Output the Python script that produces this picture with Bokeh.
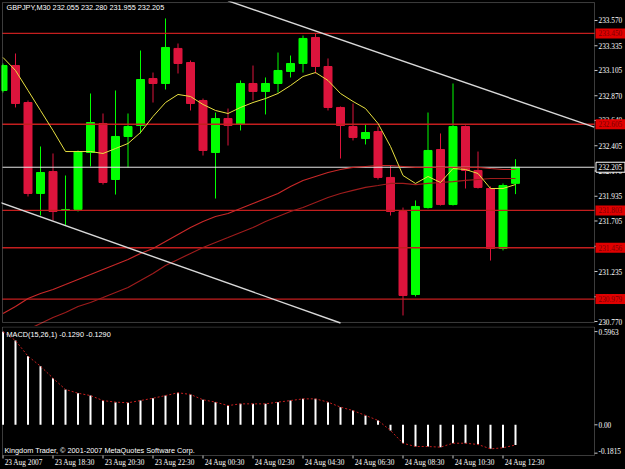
from bokeh.plotting import figure
from bokeh.layouts import column
from bokeh.models import Range1d, Label, ColumnDataSource, BoxAnnotation
from bokeh.embed import file_html
from bokeh.resources import INLINE

# ---------------- data ----------------
bar_index = list(range(42))
opens = [232.919, 233.151, 232.807, 231.961, 232.165, 231.803, 231.812, 232.342, 232.612, 232.091,
         232.491, 232.593, 233.030, 232.984, 233.310, 233.179, 232.826, 232.342, 232.658, 232.603,
         232.984, 232.910, 232.984, 233.096, 233.170, 233.412, 233.142, 232.761, 232.584, 232.472,
         232.537, 232.110, 231.793, 231.021, 231.830, 232.370, 231.858, 232.584, 232.175, 232.007,
         231.449, 232.055]
highs = [233.170, 233.263, 232.826, 232.398, 232.333, 232.128, 232.361, 232.891, 232.705, 232.919,
         232.705, 233.291, 233.086, 233.589, 233.356, 233.198, 232.844, 232.714, 232.751, 233.012,
         233.151, 233.040, 233.272, 233.244, 233.430, 233.449, 233.217, 232.770, 232.798, 232.603,
         232.584, 232.221, 231.830, 231.896, 232.714, 232.519, 232.984, 232.594, 232.351, 232.026,
         232.054, 232.280]
lows = [232.900, 232.761, 231.933, 231.756, 231.710, 231.663, 231.793, 232.212, 232.044, 231.951,
        232.203, 232.519, 232.807, 232.928, 233.077, 232.733, 232.314, 231.914, 232.407, 232.547,
        232.826, 232.696, 232.900, 233.040, 233.086, 233.077, 232.733, 232.286, 232.454, 232.417,
        232.091, 231.756, 230.826, 231.003, 231.821, 231.849, 231.849, 232.007, 232.007, 231.337,
        231.431, 231.955]
closes = [233.151, 232.798, 231.961, 232.156, 231.793, 231.812, 232.351, 232.621, 232.063, 232.491,
          232.584, 233.021, 232.984, 233.319, 233.170, 232.798, 232.361, 232.658, 232.593, 232.984,
          232.910, 232.984, 233.105, 233.170, 233.403, 233.142, 232.761, 232.593, 232.482, 232.528,
          232.110, 231.793, 231.012, 231.840, 232.361, 231.858, 232.584, 232.175, 232.017, 231.449,
          232.035, 232.205]
ma_fast = [233.226, 233.105, 232.919, 232.733, 232.547, 232.351, 232.351, 232.351, 232.333, 232.379,
           232.426, 232.528, 232.677, 232.807, 232.882, 232.863, 232.789, 232.733, 232.705, 232.761,
           232.807, 232.844, 232.891, 232.965, 233.049, 233.086, 233.012, 232.891, 232.817, 232.751,
           232.612, 232.398, 232.128, 232.054, 232.119, 232.063, 232.193, 232.184, 232.147, 232.007,
           232.007, 232.044]
ma_mid = [230.844, 230.910, 230.984, 231.030, 231.068, 231.114, 231.161, 231.207, 231.254, 231.300,
          231.347, 231.403, 231.449, 231.514, 231.579, 231.644, 231.700, 231.747, 231.775, 231.821,
          231.868, 231.914, 231.961, 232.026, 232.082, 232.119, 232.156, 232.184, 232.203, 232.212,
          232.221, 232.221, 232.212, 232.203, 232.203, 232.203, 232.203, 232.203, 232.203, 232.193,
          232.184, 232.184]
ma_slow = [230.593, 230.630, 230.696, 230.751, 230.807, 230.854, 230.910, 230.947, 230.993, 231.040,
           231.086, 231.151, 231.217, 231.291, 231.347, 231.403, 231.458, 231.505, 231.551, 231.598,
           231.644, 231.700, 231.747, 231.793, 231.830, 231.877, 231.923, 231.961, 231.989, 232.017,
           232.035, 232.054, 232.054, 232.044, 232.054, 232.063, 232.072, 232.082, 232.091, 232.100,
           232.100, 232.100]
red_levels = [233.450, 232.605, 231.803, 231.456, 230.979]
current_price = 232.205
upper_trend_x = [18.0, 47.3]
upper_trend_y = [233.753, 232.578]
lower_trend_x = [-1.0, 27.0]
lower_trend_y = [231.909, 230.756]
price_ticks = [233.570, 233.335, 233.105, 232.870, 232.640, 232.405, 232.170, 231.935, 231.705,
               231.470, 231.235, 231.000, 230.770]
macd_main = [0.596, 0.539, 0.439, 0.375, 0.298, 0.226, 0.202, 0.187, 0.155, 0.145,
             0.141, 0.155, 0.170, 0.187, 0.205, 0.194, 0.160, 0.145, 0.123, 0.134,
             0.134, 0.134, 0.145, 0.155, 0.166, 0.166, 0.145, 0.113, 0.091, 0.060,
             0.028, -0.036, -0.118, -0.139, -0.139, -0.143, -0.118, -0.118, -0.126, -0.154,
             -0.147, -0.129]
macd_signal = list(macd_main)  # signal period 1 -> identical to the main line
macd_ticks = [0.5963, 0.0, -0.1815]
macd_tick_labels = ["0.5963", "0.00", "-0.1815"]
time_tick_bars = [0, 4, 8, 12, 16, 20, 24, 28, 32, 36, 40]
time_tick_labels = ["23 Aug 2007", "23 Aug 18:30", "23 Aug 20:30", "23 Aug 22:30", "24 Aug 00:30",
                    "24 Aug 02:30", "24 Aug 04:30", "24 Aug 06:30", "24 Aug 08:30", "24 Aug 10:30",
                    "24 Aug 12:30"]

# ---------------- layout constants / styles ----------------
BULL = "#00FF00"
BEAR = "#DC143C"
FRAME = "#C8C8C8"
FONT = "Liberation Sans"
FS = "7.3px"

X_START, X_END = -0.12, 49.8          # whole canvas width (bars 12.5 px apart)
PANEL_LEFT, PANEL_RIGHT = -0.04, 47.32  # chart window border
TICK_END_X = 47.56
LABEL_X = 47.64
BOX_X = 48.6
PRICE_TOP, PRICE_BOTTOM = 233.737, 230.761
MACD_TOP, MACD_BOTTOM = 0.6257, -0.1964
TIME_TICK_END = -0.2156
TIME_LABEL_Y = -0.2444
TIME_LABEL_DX = 0.13

colors = [BULL if c >= o else BEAR for o, c in zip(opens, closes)]
src = ColumnDataSource(dict(
    x=bar_index, h=highs, l=lows,
    top=[max(o, c) for o, c in zip(opens, closes)],
    bottom=[min(o, c) for o, c in zip(opens, closes)],
    color=colors))

x_range = Range1d(X_START, X_END)

common = dict(output_backend="svg", toolbar_location=None, x_axis_location=None,
              y_axis_location=None, min_border_left=1, min_border_right=0,
              background_fill_color="black", border_fill_color="black",
              outline_line_color=None)

# ---------------- price panel ----------------
p1 = figure(width=625, height=326, x_range=x_range, y_range=Range1d(230.7235, 233.7467),
            min_border_top=1, min_border_bottom=0, **common)
p1.grid.visible = False

p1.segment(x0="x", y0="h", x1="x", y1="l", color="color", line_width=1, source=src)
p1.vbar(x="x", width=0.64, top="top", bottom="bottom", fill_color="color",
        line_color="color", line_width=1, source=src)

n_lv = len(red_levels)
p1.segment(x0=[PANEL_LEFT] * n_lv, x1=[PANEL_RIGHT] * n_lv, y0=red_levels, y1=red_levels,
           line_color="#C41E1E", line_width=1.3)
p1.segment(x0=[PANEL_LEFT], x1=[PANEL_RIGHT], y0=[current_price], y1=[current_price],
           line_color="#E6E6E6", line_width=1)

p1.line(bar_index, ma_slow, line_color="#9E1C1C", line_width=1.2)
p1.line(bar_index, ma_mid, line_color="#C82828", line_width=1.2)
p1.line(bar_index, ma_fast, line_color="#E8E040", line_width=1)

p1.line(upper_trend_x, upper_trend_y, line_color="#D8D8D8", line_width=1.4)
p1.line(lower_trend_x, lower_trend_y, line_color="#D8D8D8", line_width=1.4)

p1.add_layout(BoxAnnotation(left=PANEL_LEFT, right=PANEL_RIGHT, top=PRICE_TOP,
                            bottom=PRICE_BOTTOM, fill_color=None, line_color=FRAME,
                            line_width=1))

# price scale
n_pt = len(price_ticks)
p1.segment(x0=[PANEL_RIGHT] * n_pt, x1=[TICK_END_X] * n_pt, y0=price_ticks, y1=price_ticks,
           line_color=FRAME, line_width=1)
p1.text(x=[LABEL_X] * n_pt, y=price_ticks, text=[f"{t:.3f}" for t in price_ticks],
        text_color="white", text_font=FONT, text_font_size=FS, text_baseline="middle",
        text_align="left")
p1.rect(x=[BOX_X] * n_lv, y=red_levels, width=30, height=10, width_units="screen",
        height_units="screen", fill_color="#E00000", line_color=None)
p1.text(x=[LABEL_X] * n_lv, y=red_levels, text=[f"{v:.3f}" for v in red_levels],
        text_color="#7A0000", text_font=FONT, text_font_size=FS, text_baseline="middle",
        text_align="left")
p1.rect(x=[BOX_X], y=[current_price], width=29, height=10, width_units="screen",
        height_units="screen", fill_color="black", line_color="white", line_width=1)
p1.text(x=[LABEL_X], y=[current_price], text=[f"{current_price:.3f}"],
        text_color="white", text_font=FONT, text_font_size=FS, text_baseline="middle",
        text_align="left")

p1.add_layout(Label(x=5, y=319, x_units="screen", y_units="screen",
                    text="GBPJPY,M30  232.055 232.280 231.955 232.205",
                    text_font=FONT, text_font_size=FS, text_color="white",
                    text_baseline="middle"))

# ---------------- MACD panel ----------------
p2 = figure(width=625, height=143, x_range=x_range, y_range=Range1d(-0.2860, 0.6289),
            min_border_top=0, min_border_bottom=0, **common)
p2.grid.visible = False
p2.segment(x0=bar_index, y0=[0] * len(bar_index), x1=bar_index, y1=macd_main,
           line_color="white", line_width=2)
p2.line(bar_index, macd_signal, line_color="#C81E1E", line_dash="2 2", line_width=1)

p2.add_layout(BoxAnnotation(left=PANEL_LEFT, right=PANEL_RIGHT, top=MACD_TOP,
                            bottom=MACD_BOTTOM, fill_color=None, line_color=FRAME,
                            line_width=1))

n_mt = len(macd_ticks)
p2.segment(x0=[PANEL_RIGHT] * n_mt, x1=[TICK_END_X] * n_mt, y0=macd_ticks, y1=macd_ticks,
           line_color=FRAME, line_width=1)
p2.text(x=[LABEL_X] * n_mt, y=macd_ticks, text=macd_tick_labels, text_color="white",
        text_font=FONT, text_font_size=FS, text_baseline="middle", text_align="left",
        y_offset=[0, 0, -2.5])

n_tt = len(time_tick_bars)
p2.segment(x0=time_tick_bars, x1=time_tick_bars, y0=[MACD_BOTTOM] * n_tt,
           y1=[TIME_TICK_END] * n_tt, line_color=FRAME, line_width=1)
p2.text(x=[b + TIME_LABEL_DX for b in time_tick_bars], y=[TIME_LABEL_Y] * n_tt,
        text=time_tick_labels, text_color="white", text_font=FONT, text_font_size=FS,
        text_baseline="middle", text_align="left")

p2.add_layout(Label(x=5, y=135, x_units="screen", y_units="screen",
                    text="MACD(15,26,1) -0.1290 -0.1290", text_font=FONT, text_font_size=FS,
                    text_color="white", text_baseline="middle"))
p2.add_layout(Label(x=3, y=19.5, x_units="screen", y_units="screen",
                    text="Kingdom Trader, \u00a9 2001-2007 MetaQuotes Software Corp.",
                    text_font=FONT, text_font_size=FS, text_color="white",
                    text_baseline="middle"))

layout = column(p1, p2, spacing=0, background="black")
open("out.html", "w").write(file_html(layout, INLINE))
